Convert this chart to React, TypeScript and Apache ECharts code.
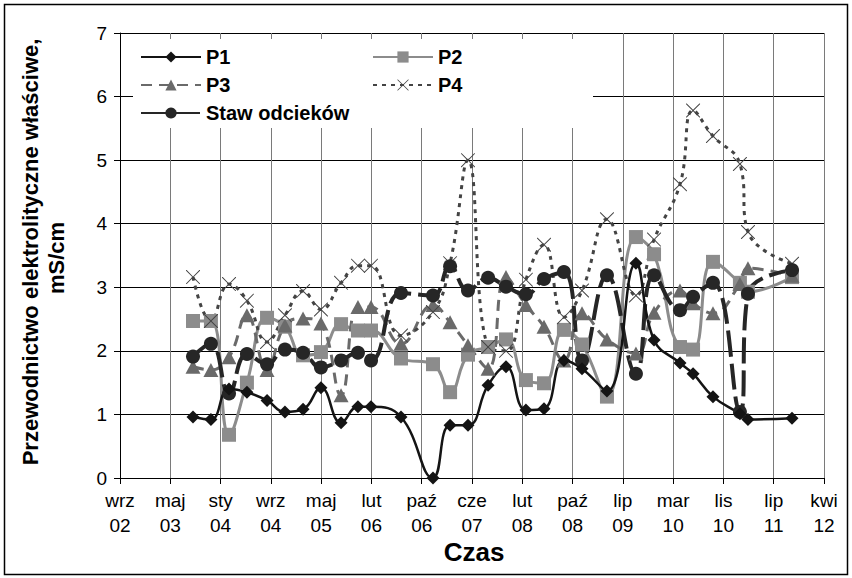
import React, { useEffect, useRef } from "react";
import * as echarts from "echarts";

const MONTHS = ["sty", "lut", "mar", "kwi", "maj", "cze", "lip", "sie", "wrz", "paź", "lis", "gru"];
const ORIGIN = Date.UTC(2002, 8, 1);
const DAY = 86400000;
const FONT = '"Liberation Sans", Arial, Helvetica, sans-serif';

const dates = [
  "2003-08-30", "2003-11-27", "2004-02-25", "2004-05-24", "2004-09-01", "2004-11-29",
  "2005-02-27", "2005-05-27", "2005-09-04", "2005-11-27", "2006-01-31", "2006-06-29",
  "2006-12-05", "2007-02-28", "2007-05-28", "2007-09-05", "2007-12-03", "2008-03-11",
  "2008-06-09", "2008-09-16", "2008-12-15", "2009-04-18", "2009-09-09", "2009-12-08",
  "2010-04-16", "2010-06-20", "2010-09-27", "2011-02-08", "2011-03-20", "2011-10-25",
];
const p1 = [0.96, 0.92, 1.4, 1.35, 1.22, 1.04, 1.08, 1.42, 0.87, 1.12, 1.12, 0.96, 0.0, 0.83, 0.83, 1.46, 1.75, 1.07, 1.09, 1.85, 1.72, 1.37, 3.38, 2.17, 1.81, 1.64, 1.28, 1.01, 0.92, 0.94];
const p2 = [2.47, 2.47, 0.68, 1.5, 2.52, 2.38, 1.93, 1.98, 2.42, 2.32, 2.32, 1.88, 1.79, 1.35, 1.94, 2.06, 2.18, 1.54, 1.49, 2.33, 2.1, 1.28, 3.79, 3.52, 2.06, 2.02, 3.4, 3.07, 2.93, 3.16];
const p3 = [1.75, 1.7, 1.9, 2.56, 1.7, 2.4, 2.51, 2.43, 1.3, 2.69, 2.69, 2.11, 2.72, 2.45, 2.09, 1.72, 3.16, 2.72, 2.38, 1.85, 2.59, 2.18, 1.96, 2.6, 2.95, 2.75, 2.59, 3.05, 3.3, 3.18];
const p4 = [3.16, 2.47, 3.05, 2.79, 2.14, 2.56, 2.94, 2.65, 3.07, 3.34, 3.34, 2.24, 2.61, 3.38, 5.0, 2.06, 2.0, 3.12, 3.67, 2.53, 2.95, 4.07, 2.87, 3.75, 4.62, 5.78, 5.38, 4.94, 3.87, 3.37];
const staw = [1.91, 2.11, 1.33, 1.95, 1.79, 2.02, 1.97, 1.74, 1.85, 1.97, 1.85, 2.91, 2.87, 3.33, 2.95, 3.15, 3.01, 2.89, 3.13, 3.24, 1.85, 3.19, 1.64, 3.19, 2.64, 2.85, 3.07, 1.04, 2.9, 3.27];

const X_MIN = 0;
const X_MAX = 3500;
const X_STEP = 250;
const Y_MIN = 0;
const Y_MAX = 7;
const Y_STEP = 1;

const CROSS =
  "path://M0,0L1,0L10,9L19,0L20,0L20,1L11,10L20,19L20,20L19,20L10,11L1,20L0,20L0,19L9,10L0,1Z";

function dayOffset(d: string): number {
  const [y, m, dd] = d.split("-").map(Number);
  return Math.round((Date.UTC(y, m - 1, dd) - ORIGIN) / DAY);
}

function tickLabel(v: number): string {
  const dt = new Date(ORIGIN + v * DAY);
  return MONTHS[dt.getUTCMonth()] + "\n" + String(dt.getUTCFullYear() % 100).padStart(2, "0");
}

function toData(vals: number[]) {
  return dates.map((d, i) => [dayOffset(d), vals[i]]);
}

export default function App() {
  const ref = useRef<HTMLDivElement>(null);

  useEffect(() => {
    if (!ref.current) return;
    const chart = echarts.init(ref.current, null, { renderer: "svg" });
    const legendText = { fontSize: 20, fontWeight: "bold", color: "#000", fontFamily: FONT };
    chart.setOption({
      animation: false,
      backgroundColor: "#fff",
      textStyle: { fontFamily: FONT },
      grid: { left: 120, right: 28, top: 33, bottom: 100, containLabel: false },
      xAxis: {
        type: "value",
        min: X_MIN,
        max: X_MAX,
        interval: X_STEP,
        axisLine: { show: true, lineStyle: { color: "#000", width: 1 } },
        axisTick: { show: true, length: 6, lineStyle: { color: "#000" } },
        axisLabel: {
          formatter: (v: number) => tickLabel(v),
          fontSize: 19,
          color: "#000",
          lineHeight: 25,
          margin: 10,
          fontFamily: FONT,
        },
        splitLine: { show: true, lineStyle: { color: "#7a7a7a", width: 1 } },
      },
      yAxis: {
        type: "value",
        min: Y_MIN,
        max: Y_MAX,
        interval: Y_STEP,
        axisLine: { show: true, lineStyle: { color: "#000", width: 1 } },
        axisTick: { show: true, length: 6, lineStyle: { color: "#000" } },
        axisLabel: { fontSize: 19, color: "#000", margin: 13, fontFamily: FONT },
        splitLine: { show: true, lineStyle: { color: "#000", width: 1 } },
      },
      legend: [
        {
          left: 140,
          top: 47,
          orient: "vertical",
          itemWidth: 60,
          itemHeight: 14,
          itemGap: 8,
          padding: 0,
          z: 10,
          textStyle: legendText,
          data: ["P1", "P3", "Staw odcieków"],
        },
        {
          left: 372,
          top: 47,
          orient: "vertical",
          itemWidth: 60,
          itemHeight: 14,
          itemGap: 8,
          padding: 0,
          z: 10,
          textStyle: legendText,
          data: ["P2", "P4"],
        },
      ],
      graphic: [
        {
          type: "rect",
          z: 3,
          shape: { x: 133, y: 39, width: 460, height: 89 },
          style: { fill: "#fff" },
        },
        {
          type: "rect",
          z: 20,
          shape: { x: 4.5, y: 4.5, width: 843, height: 570 },
          style: { fill: "none", stroke: "#000", lineWidth: 1.5 },
        },
        {
          type: "text",
          z: 20,
          x: 30,
          y: 252,
          rotation: Math.PI / 2,
          style: {
            text: "Przewodnictwo elektrolityczne właściwe,",
            font: "bold 22px " + FONT,
            fill: "#000",
            align: "center",
            verticalAlign: "middle",
            textAlign: "center",
            textVerticalAlign: "middle",
          },
        },
        {
          type: "text",
          z: 20,
          x: 56,
          y: 258,
          rotation: Math.PI / 2,
          style: {
            text: "mS/cm",
            font: "bold 22px " + FONT,
            fill: "#000",
            align: "center",
            verticalAlign: "middle",
            textAlign: "center",
            textVerticalAlign: "middle",
          },
        },
        {
          type: "text",
          z: 20,
          x: 474,
          y: 552,
          style: {
            text: "Czas",
            font: "bold 26px " + FONT,
            fill: "#000",
            align: "center",
            verticalAlign: "middle",
            textAlign: "center",
            textVerticalAlign: "middle",
          },
        },
      ],
      series: [
        {
          name: "P2",
          type: "line",
          smooth: 0.45,
          data: toData(p2),
          symbol: "rect",
          symbolSize: 14,
          itemStyle: { color: "#8c8c8c" },
          lineStyle: { color: "#8c8c8c", width: 3, type: "solid" },
          z: 2,
        },
        {
          name: "P3",
          type: "line",
          smooth: 0.45,
          data: toData(p3),
          symbol: "triangle",
          symbolSize: [15, 14],
          itemStyle: { color: "#6a6a6a" },
          lineStyle: { color: "#6a6a6a", width: 3, type: [11, 7] },
          z: 2,
        },
        {
          name: "P4",
          type: "line",
          smooth: 0.45,
          data: toData(p4),
          symbol: CROSS,
          symbolSize: 14,
          itemStyle: { color: "#444" },
          lineStyle: { color: "#444", width: 3, type: [4, 5] },
          z: 2,
        },
        {
          name: "Staw odcieków",
          type: "line",
          smooth: 0.45,
          data: toData(staw),
          symbol: "circle",
          symbolSize: 14,
          itemStyle: { color: "#262626" },
          lineStyle: { color: "#262626", width: 4, type: [26, 7] },
          z: 2,
        },
        {
          name: "P1",
          type: "line",
          smooth: 0.45,
          data: toData(p1),
          symbol: "diamond",
          symbolSize: 13,
          itemStyle: { color: "#141414" },
          lineStyle: { color: "#141414", width: 2.5, type: "solid" },
          z: 2,
        },
      ],
    });
    return () => chart.dispose();
  }, []);

  return (
    <div
      ref={ref}
      style={{ position: "absolute", left: 0, top: 0, width: 852, height: 578, background: "#fff" }}
    />
  );
}
